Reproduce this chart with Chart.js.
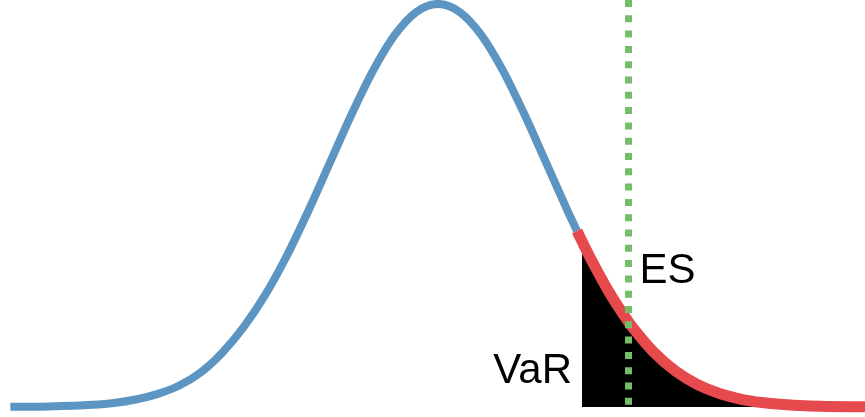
<!DOCTYPE html>
<html>
<head>
<meta charset="utf-8">
<script src="https://cdn.jsdelivr.net/npm/chart.js@4/dist/chart.umd.min.js"></script>
<style>
  html, body { margin: 0; padding: 0; background: #fff; }
  #wrap { width: 865px; height: 417px; position: relative; }
</style>
</head>
<body>
<div id="wrap"><canvas id="varChart"></canvas></div>
<script>
// returns in standard deviations, density
const curveZ = [-3.96, -3.6, -3.2, -3.0, -2.8, -2.6, -2.4, -2.2, -2.0, -1.8, -1.6, -1.4, -1.2, -1.0, -0.8, -0.6, -0.4, -0.2, 0,
                0.2, 0.4, 0.6, 0.8, 1.0, 1.2, 1.287, 1.333, 1.4, 1.6, 1.764, 1.8, 2.0, 2.2, 2.4, 2.6, 2.8, 3.0, 3.2, 3.4, 3.6, 3.954];
const curveDensity = [0.0002, 0.0006, 0.0022, 0.0040, 0.0074, 0.0128, 0.0210, 0.0340, 0.0535, 0.0790, 0.1109, 0.1497, 0.1942, 0.2420, 0.2897, 0.3332, 0.3683, 0.3910, 0.3989,
                      0.3910, 0.3683, 0.3332, 0.2897, 0.2420, 0.1942, 0.1743, 0.1641, 0.1497, 0.1109, 0.0842, 0.0790, 0.0540, 0.0355, 0.0224, 0.0136, 0.0079, 0.0044, 0.0024, 0.0012, 0.0006, 0.0002];

const tailStartZ = 1.287;   // where the red part of the curve starts
const varZ = 1.333;         // VaR cut-off, start of shaded tail
const esZ = 1.764;          // expected shortfall marker
const labelTexts = ['VaR', 'ES'];

const pts = curveZ.map((z, i) => ({ x: z, y: curveDensity[i] }));
const bluePts = pts.filter(p => p.x <= tailStartZ);
const redPts = pts.filter(p => p.x >= tailStartZ);
const tailPts = pts.filter(p => p.x >= varZ);

const labelPlugin = {
  id: 'labels',
  afterDatasetsDraw(chart) {
    const { ctx, scales } = chart;
    const xs = scales.x, ys = scales.y;
    ctx.save();
    ctx.fillStyle = '#000';
    ctx.font = "42px 'Liberation Sans', Arial, sans-serif";
    ctx.textBaseline = 'alphabetic';
    ctx.textAlign = 'right';
    ctx.fillText(labelTexts[0], xs.getPixelForValue(varZ) - 10, ys.getPixelForValue(0.0234));
    ctx.textAlign = 'left';
    ctx.fillText(labelTexts[1], xs.getPixelForValue(esZ) + 11, ys.getPixelForValue(0.1224));
    ctx.restore();
  }
};

const ctx = document.getElementById('varChart').getContext('2d');
const varChart = new Chart(ctx, {
  type: 'line',
  data: {
    datasets: [
      {
        label: 'ES',
        data: [{ x: esZ, y: 0.4028 }, { x: esZ, y: 0 }],
        borderColor: 'rgb(116, 190, 106)',
        borderWidth: 7,
        borderDash: [7, 8.3],
        borderCapStyle: 'butt',
        pointRadius: 0,
        fill: false
      },
      {
        label: 'tail',
        data: redPts,
        borderColor: 'rgb(231, 74, 76)',
        borderWidth: 11,
        borderCapStyle: 'butt',
        pointRadius: 0,
        cubicInterpolationMode: 'monotone',
        fill: false
      },
      {
        label: 'distribution',
        data: bluePts,
        borderColor: 'rgb(92, 149, 194)',
        borderWidth: 8,
        borderCapStyle: 'butt',
        pointRadius: 0,
        cubicInterpolationMode: 'monotone',
        fill: false
      },
      {
        label: 'VaR area',
        data: tailPts,
        borderWidth: 0,
        borderColor: 'rgba(0,0,0,0)',
        backgroundColor: '#000',
        pointRadius: 0,
        cubicInterpolationMode: 'monotone',
        fill: 'origin'
      }
    ]
  },
  options: {
    responsive: true,
    maintainAspectRatio: false,
    animation: false,
    layout: { padding: 0 },
    plugins: {
      legend: { display: false },
      tooltip: { enabled: false }
    },
    scales: {
      x: { type: 'linear', min: -4.056, max: 3.954, display: false },
      y: { min: -0.0099, max: 0.4028, display: false }
    }
  },
  plugins: [labelPlugin]
});
</script>
</body>
</html>
